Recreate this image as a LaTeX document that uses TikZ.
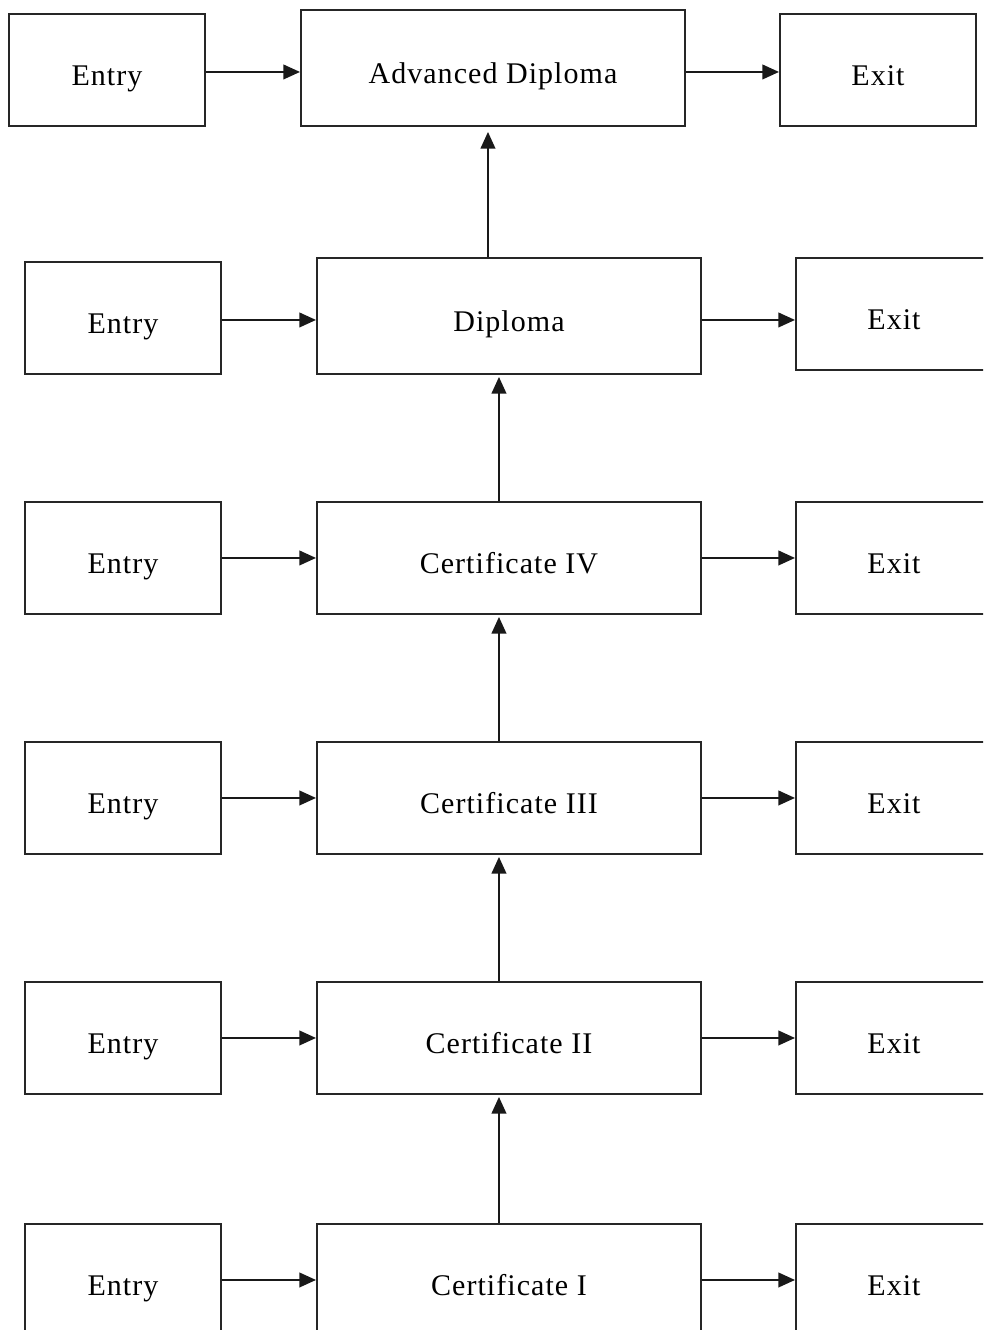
\documentclass[tikz,border=0pt]{standalone}
\usepackage{fontspec}
\setmainfont{Liberation Serif}[LetterSpace=3.5]
\usetikzlibrary{arrows.meta,calc}
\begin{document}
\begin{tikzpicture}[x=0.75pt,y=-0.75pt,
  box/.style={draw=black!85, line width=1.45pt, anchor=north west, inner sep=0pt,
    font=\fontsize{22.5}{27}\selectfont, text height=23pt, text depth=0pt,
    minimum width=147pt, minimum height=84pt},
  wide/.style={box, minimum width=288pt},
  tall/.style={minimum height=87pt},
  arr/.style={-{Triangle[length=12.5pt,width=11pt]}, line width=1.45pt, draw=black!90}]
\useasboundingbox (0,0) rectangle (983,1330);
\clip (0,0) rectangle (983,1330);

% row 0
\node[box] (e0) at (8,13) {Entry};
\node[wide,tall] (m0) at (300,9) {Advanced Diploma};
\node[box] (x0) at (779,13) {Exit};
% row 1
\node[box] (e1) at (24,261) {Entry};
\node[wide,tall] (m1) at (316,257) {Diploma};
\node[box] (x1) at (795,257) {Exit};
% rows 2-5
\node[box] (e2) at (24,501) {Entry};
\node[wide] (m2) at (316,501) {Certificate IV};
\node[box] (x2) at (795,501) {Exit};
\node[box] (e3) at (24,741) {Entry};
\node[wide] (m3) at (316,741) {Certificate III};
\node[box] (x3) at (795,741) {Exit};
\node[box] (e4) at (24,981) {Entry};
\node[wide] (m4) at (316,981) {Certificate II};
\node[box] (x4) at (795,981) {Exit};
\node[box] (e5) at (24,1223) {Entry};
\node[wide] (m5) at (316,1223) {Certificate I};
\node[box] (x5) at (795,1223) {Exit};

% horizontal arrows
\draw[arr] ($(e0.east)+(0,2)$) -- ($(e0.east -| m0.west)+(0,2)$);
\draw[arr] ($(x0.west -| m0.east)+(0,2)$) -- ($(x0.west)+(0,2)$);
\draw[arr] ($(e1.east)+(0,2)$) -- ($(e1.east -| m1.west)+(0,2)$);
\draw[arr] ($(m1.east)+(0,4)$) -- ($(m1.east -| x1.west)+(0,4)$);
\foreach \i in {2,3,4,5}{
  \draw[arr] (e\i.east) -- (e\i.east -| m\i.west);
  \draw[arr] (m\i.east) -- (m\i.east -| x\i.west);
}

% vertical arrows
\draw[arr] ($(m1.north)+(-21,0)$) -- ($(m1.north |- m0.south)+(-21,5)$);
\draw[arr] ($(m2.north)+(-10,0)$) -- ($(m1.south)+(-10,2)$);
\draw[arr] ($(m3.north)+(-10,0)$) -- ($(m2.south)+(-10,2)$);
\draw[arr] ($(m4.north)+(-10,0)$) -- ($(m3.south)+(-10,2)$);
\draw[arr] ($(m5.north)+(-10,0)$) -- ($(m4.south)+(-10,2)$);
\end{tikzpicture}
\end{document}
